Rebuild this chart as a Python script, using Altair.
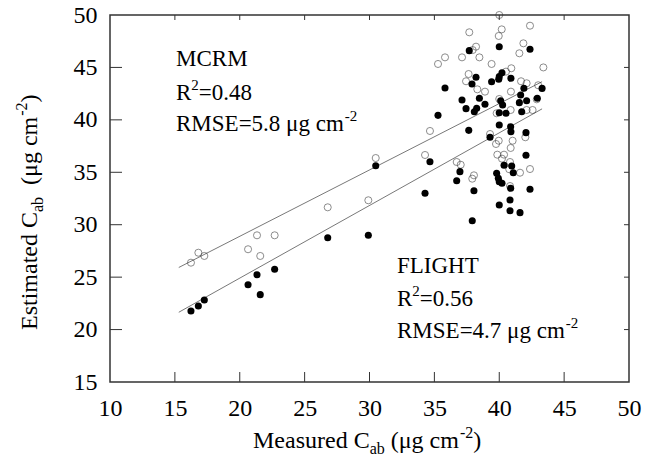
import altair as alt
import pandas as pd

# ---------------- data ----------------
mcrm_x = [16.24, 16.81, 17.27, 20.64, 21.33, 22.69, 21.58, 26.78, 29.91, 30.48,
          34.28, 34.66, 36.72, 37.03, 35.28, 35.82, 37.13, 37.64, 37.44, 37.69,
          40.00, 40.19, 39.96, 42.37, 41.86, 41.55, 38.21, 37.95, 38.47, 39.41,
          40.93, 40.52, 38.31, 38.90, 41.68, 42.11, 43.00, 40.90, 40.00, 42.89,
          40.88, 42.11, 42.57, 39.80, 42.01, 39.29, 39.96, 39.75, 41.03, 40.88,
          39.85, 40.37, 40.21, 40.83, 40.77, 41.60, 42.37, 38.05, 37.92, 40.83,
          43.40]
mcrm_y = [26.38, 27.33, 27.02, 27.66, 28.99, 28.99, 27.02, 31.66, 32.33, 36.36,
          36.65, 38.94, 35.98, 35.72, 45.33, 45.96, 45.96, 44.37, 43.68, 48.35,
          50.00, 48.63, 48.00, 48.98, 47.30, 46.35, 46.98, 46.66, 45.96, 45.33,
          44.92, 44.60, 42.91, 42.69, 43.68, 43.49, 43.30, 42.69, 41.99, 41.96,
          40.94, 40.94, 40.94, 40.63, 38.34, 38.65, 38.01, 37.70, 38.01, 37.32,
          36.68, 36.68, 36.30, 35.98, 35.29, 34.96, 35.31, 34.71, 34.39, 33.69,
          45.00]

flight_x = [16.24, 16.81, 17.27, 20.64, 21.33, 22.69, 21.58, 26.78, 29.91, 30.48,
            34.66, 36.97, 36.72, 34.28, 37.69, 35.82, 37.13, 37.44, 35.28, 37.65,
            40.00, 42.37, 40.21, 40.00, 39.96, 40.90, 38.21, 37.90, 39.41, 41.90,
            41.65, 38.47, 38.90, 40.11, 42.11, 41.55, 38.26, 38.08, 40.26, 41.73,
            42.93, 40.00, 40.52, 40.00, 40.88, 40.90, 42.06, 39.29, 42.06, 40.37,
            40.96, 41.08, 39.80, 39.93, 40.00, 40.21, 38.05, 40.88, 42.37, 40.83,
            40.00, 40.83, 41.60, 37.92, 43.30]
flight_y = [21.77, 22.25, 22.82, 24.28, 25.23, 25.75, 23.33, 28.76, 28.99, 35.63,
            36.01, 35.06, 34.20, 33.00, 46.60, 43.04, 41.89, 41.07, 40.43, 39.00,
            46.98, 46.73, 44.50, 44.12, 43.87, 43.96, 44.06, 43.42, 43.64, 43.01,
            42.37, 42.06, 41.48, 41.83, 41.83, 41.64, 41.10, 40.78, 41.42, 40.78,
            42.06, 40.68, 40.63, 39.51, 39.35, 38.87, 38.78, 38.34, 36.62, 35.67,
            35.60, 34.96, 34.90, 34.43, 34.10, 33.95, 33.24, 33.47, 33.38, 32.36,
            31.88, 31.34, 31.15, 30.38, 43.00]

# fitted lines (end points)
line_x = [15.3, 43.3]
mcrm_line_y = [25.92, 43.64]
flight_line_y = [21.65, 41.05]

x_ticks = [10, 15, 20, 25, 30, 35, 40, 45, 50]
y_ticks = [15, 20, 25, 30, 35, 40, 45, 50]

# ---------------- chart ----------------
FONT = "Liberation Serif"
W, H = 519, 367
OX, OY = 110, 15

xs = alt.Scale(domain=[10, 50], nice=False, zero=False)
ys = alt.Scale(domain=[15, 50], nice=False, zero=False)

df_m = pd.DataFrame({"x": mcrm_x, "y": mcrm_y})
df_f = pd.DataFrame({"x": flight_x, "y": flight_y})
df_lm = pd.DataFrame({"x": line_x, "y": mcrm_line_y})
df_lf = pd.DataFrame({"x": line_x, "y": flight_line_y})

xaxis = alt.Axis(values=x_ticks, format="d", grid=False, domain=False, ticks=False,
                 tickSize=0, labelPadding=14, labelFont=FONT, labelFontSize=24,
                 labelColor="black", title=None, labelFlush=False)
yaxis = alt.Axis(values=y_ticks, format="d", grid=False, domain=False, ticks=False,
                 tickSize=0, labelPadding=13, labelFont=FONT, labelFontSize=24,
                 labelColor="black", title=None, labelFlush=False)

X = alt.X("x:Q", scale=xs, axis=xaxis)
Y = alt.Y("y:Q", scale=ys, axis=yaxis)

open_pts = alt.Chart(df_m).mark_point(shape="circle", filled=False, size=50,
                                      stroke="#333333", strokeWidth=0.8).encode(x=X, y=Y)
fill_pts = alt.Chart(df_f).mark_circle(size=50, color="black", opacity=1).encode(x=X, y=Y)
line_m = alt.Chart(df_lm).mark_line(color="#555555", strokeWidth=0.8).encode(x=X, y=Y)
line_f = alt.Chart(df_lf).mark_line(color="#555555", strokeWidth=0.8).encode(x=X, y=Y)

# inward ticks drawn through the scales
df_xt = pd.DataFrame({"x": x_ticks[1:-1]})
df_yt = pd.DataFrame({"y": y_ticks[1:-1]})
TC = "#333333"
tick_b = alt.Chart(df_xt).mark_rule(color=TC, strokeWidth=1).encode(
    x=X, y=alt.value(H), y2=alt.value(H - 10))
tick_t = alt.Chart(df_xt).mark_rule(color=TC, strokeWidth=1).encode(
    x=X, y=alt.value(0), y2=alt.value(5))
tick_l = alt.Chart(df_yt).mark_rule(color=TC, strokeWidth=1).encode(
    y=Y, x=alt.value(0), x2=alt.value(12))
tick_r = alt.Chart(df_yt).mark_rule(color=TC, strokeWidth=1).encode(
    y=Y, x=alt.value(W), x2=alt.value(W - 5))

# ---------------- rich text (sub/superscripts) ----------------
ADV = {" ": 250, "(": 333, ")": 333, "-": 333, ".": 250, "=": 564,
       "A": 722, "C": 667, "E": 611, "F": 556, "G": 722, "H": 722, "I": 333,
       "L": 611, "M": 889, "R": 667, "S": 556, "T": 611,
       "a": 444, "b": 500, "c": 444, "d": 500, "e": 444, "g": 500, "i": 278,
       "m": 778, "r": 333, "s": 389, "t": 278, "u": 500, "μ": 576}


def width(s, size):
    return sum(ADV.get(ch, 500) for ch in s) * size / 1000.0


def piece(s, x, y, size, angle=0):
    return alt.Chart(alt.Data(values=[{}])).mark_text(
        text=s, font=FONT, fontSize=size, align="left", baseline="alphabetic",
        angle=angle, color="black").encode(x=alt.value(x - OX), y=alt.value(y - OY))


def rich(runs, x0, y0, angle=0):
    out = []
    pos = 0.0
    for s, size, shift in runs:
        lead = len(s) - len(s.lstrip(" "))
        body = s.lstrip(" ")
        start = pos + width(" " * lead, size)
        if angle == 0:
            out.append(piece(body, x0 + start, y0 - shift, size))
        else:
            out.append(piece(body, x0 - shift, y0 - start, size, angle=270))
        pos += width(s, size)
    return out


AS = 23
SS = 15
texts = []
texts += rich([("MCRM", AS, 0)], 176, 66)
texts += rich([("R", AS, 0), ("2", SS, 10), ("=0.48", AS, 0)], 176, 100)
texts += rich([("RMSE=5.8 μg cm", AS, 0), ("-2", SS, 10)], 176, 131)
texts += rich([("FLIGHT", AS, 0)], 397, 273)
texts += rich([("R", AS, 0), ("2", SS, 10), ("=0.56", AS, 0)], 397, 306)
texts += rich([("RMSE=4.7 μg cm", AS, 0), ("-2", SS, 10)], 397, 338)
texts += rich([("Measured C", 24, 0), ("ab", 16, -6), (" (μg cm", 24, 0),
               ("-2", 16, 10), (")", 24, 0)], 253, 448)
texts += rich([("Estimated C", 24, 0), ("ab", 16, -6), ("  (μg cm", 24, 0),
               ("-2", 16, 10), (")", 24, 0)], 37, 330, angle=270)

chart = alt.layer(
    line_m, line_f, open_pts, fill_pts, tick_b, tick_t, tick_l, tick_r, *texts
).properties(
    width=W, height=H,
    autosize=alt.AutoSizeParams(type="none"),
    padding={"left": OX, "top": OY, "right": 646 - OX - W, "bottom": 460 - OY - H},
    background="white",
).configure_view(stroke="#333333", strokeWidth=1.5)

chart.save("out.html", embed_options={"renderer": "svg", "actions": False})
